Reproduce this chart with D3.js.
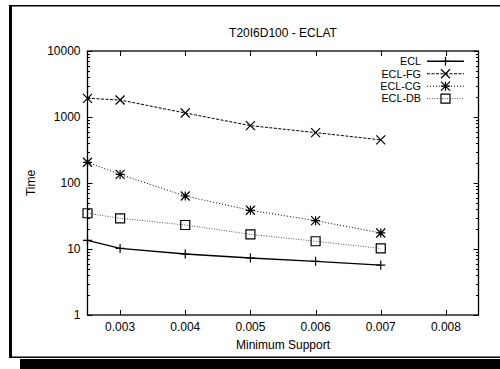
<!DOCTYPE html>
<html>
<head>
<meta charset="utf-8">
<script src="https://cdn.jsdelivr.net/npm/d3@7"></script>
<style>
  html, body { margin: 0; padding: 0; background: #fff; }
  svg { display: block; }
  text { font-family: "Liberation Sans", Arial, Helvetica, sans-serif; fill: #000; }
</style>
</head>
<body>
<svg id="chart" width="500" height="369"></svg>
<script>
// Minimum support thresholds tested
const supports = [0.0025, 0.003, 0.004, 0.005, 0.006, 0.007];

// Running times per algorithm variant
const eclTimes   = [13.5, 10.2, 8.4, 7.3, 6.5, 5.7];
const eclFgTimes = [1920, 1810, 1150, 740, 580, 450];
const eclCgTimes = [206, 135, 63.5, 38.6, 26.9, 17.5];
const eclDbTimes = [34.8, 29.2, 23.1, 16.7, 13.1, 10.2];

const seriesNames = ["ECL", "ECL-FG", "ECL-CG", "ECL-DB"];
const xTickValues = [0.003, 0.004, 0.005, 0.006, 0.007, 0.008];
const yTickValues = [1, 10, 100, 1000, 10000];
const chartTitle = "T20I6D100 - ECLAT";
const xLabel = "Minimum Support";
const yLabel = "Time";

(function draw() {
  const svg = d3.select("#chart");

  // Outer frame with drop shadow
  svg.append("rect").attr("x", 20).attr("y", 359).attr("width", 490).attr("height", 12).attr("fill", "#000");
  svg.append("line").attr("x1", 9).attr("x2", 510).attr("y1", 5.8).attr("y2", 5.8)
    .attr("stroke", "#000").attr("stroke-width", 1.6);
  svg.append("line").attr("x1", 9).attr("x2", 510).attr("y1", 357.3).attr("y2", 357.3)
    .attr("stroke", "#000").attr("stroke-width", 1.6);
  svg.append("line").attr("x1", 10.5).attr("x2", 10.5).attr("y1", 5).attr("y2", 358)
    .attr("stroke", "#000").attr("stroke-width", 3);

  const pLeft = 87.5, pRight = 478.5, pTop = 51, pBottom = 315;

  const x = d3.scaleLinear().domain([0.0025, 0.0085]).range([pLeft, pRight]);
  const y = d3.scaleLog().domain([1, 10000]).range([pBottom, pTop]);

  // Minor log ticks
  const minorTicks = [];
  for (let d = 1; d < 10000; d *= 10) {
    for (let k = 2; k <= 9; k++) minorTicks.push(d * k);
  }

  const axisG = svg.append("g").attr("stroke", "#000").attr("stroke-width", 1);

  // Ticks on left and right (inward)
  yTickValues.forEach(v => {
    const yy = Math.round(y(v)) + 0.5;
    axisG.append("line").attr("x1", pLeft).attr("x2", pLeft + 5).attr("y1", yy).attr("y2", yy);
    axisG.append("line").attr("x1", pRight).attr("x2", pRight - 5).attr("y1", yy).attr("y2", yy);
  });
  minorTicks.forEach(v => {
    const yy = Math.round(y(v)) + 0.5;
    axisG.append("line").attr("x1", pLeft).attr("x2", pLeft + 2.5).attr("y1", yy).attr("y2", yy);
    axisG.append("line").attr("x1", pRight).attr("x2", pRight - 2.5).attr("y1", yy).attr("y2", yy);
  });
  // Ticks on bottom and top (inward)
  xTickValues.forEach(v => {
    const xx = Math.round(x(v)) + 0.5;
    axisG.append("line").attr("x1", xx).attr("x2", xx).attr("y1", pBottom).attr("y2", pBottom - 5);
    axisG.append("line").attr("x1", xx).attr("x2", xx).attr("y1", pTop).attr("y2", pTop + 5);
  });

  // Plot border
  svg.append("rect").attr("x", pLeft).attr("y", pTop).attr("width", pRight - pLeft).attr("height", pBottom - pTop)
    .attr("fill", "none").attr("stroke", "#000").attr("stroke-width", 1.3);

  // Tick labels
  const fs = 12;
  svg.append("g").selectAll("text").data(yTickValues).join("text")
    .attr("x", pLeft - 7).attr("y", d => y(d)).attr("dy", "0.35em")
    .attr("text-anchor", "end").attr("font-size", fs).text(d => d);
  svg.append("g").selectAll("text").data(xTickValues).join("text")
    .attr("x", d => x(d)).attr("y", 331)
    .attr("text-anchor", "middle").attr("font-size", fs).text(d => d3.format(".3f")(d));

  // Titles
  svg.append("text").attr("x", (pLeft + pRight) / 2).attr("y", 37).attr("text-anchor", "middle")
    .attr("font-size", fs).text(chartTitle);
  svg.append("text").attr("x", (pLeft + pRight) / 2).attr("y", 349).attr("text-anchor", "middle")
    .attr("font-size", fs).text(xLabel);
  svg.append("text").attr("transform", `translate(35,${(pTop + pBottom) / 2}) rotate(-90)`)
    .attr("text-anchor", "middle").attr("font-size", fs).text(yLabel);

  // Marker shapes
  const r = 4.5;
  const markers = {
    plus: `M${-r},0H${r}M0,${-r}V${r}`,
    cross: `M${-r},${-r}L${r},${r}M${-r},${r}L${r},${-r}`,
    star: `M${-r},0H${r}M0,${-r}V${r}M${-r},${-r}L${r},${r}M${-r},${r}L${r},${-r}`,
    square: `M${-r},${-r}H${r}V${r}H${-r}Z`
  };

  const series = [
    { name: seriesNames[0], values: eclTimes,   dash: null,    color: "#000", width: 1.4, marker: markers.plus },
    { name: seriesNames[1], values: eclFgTimes, dash: "3,1.5", color: "#000", width: 1,   marker: markers.cross },
    { name: seriesNames[2], values: eclCgTimes, dash: "1,2",   color: "#000", width: 1,   marker: markers.star },
    { name: seriesNames[3], values: eclDbTimes, dash: "1,1.5", color: "#555", width: 1,   marker: markers.square }
  ];

  const line = d3.line().x(d => x(d[0])).y(d => y(d[1]));

  series.forEach(s => {
    const pts = supports.map((xv, i) => [xv, s.values[i]]);
    svg.append("path").attr("d", line(pts)).attr("fill", "none")
      .attr("stroke", s.color).attr("stroke-width", s.width)
      .attr("stroke-dasharray", s.dash);
    svg.append("g").selectAll("path").data(pts).join("path")
      .attr("transform", d => `translate(${x(d[0])},${y(d[1])})`)
      .attr("d", s.marker).attr("fill", "none").attr("stroke", "#000").attr("stroke-width", 1.2);
  });

  // Legend
  const legendFs = 10.8;
  series.forEach((s, i) => {
    const ly = 61.3 + i * 12.45;
    svg.append("text").attr("x", 421).attr("y", ly).attr("dy", "0.35em")
      .attr("text-anchor", "end").attr("font-size", legendFs).text(s.name);
    svg.append("line").attr("x1", 427).attr("x2", 464).attr("y1", ly).attr("y2", ly)
      .attr("stroke", s.color).attr("stroke-width", s.width).attr("stroke-dasharray", s.dash);
    svg.append("path").attr("transform", `translate(445.5,${ly})`).attr("d", s.marker)
      .attr("fill", "none").attr("stroke", "#000").attr("stroke-width", 1.2);
  });
})();
</script>
</body>
</html>
